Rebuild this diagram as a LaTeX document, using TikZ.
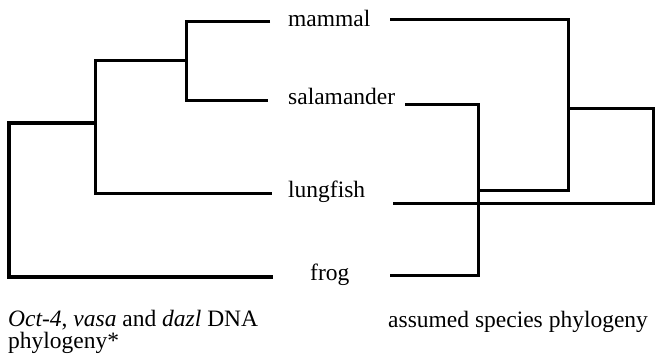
\documentclass[tikz,border=0pt]{standalone}
\usepackage{fontspec}
\setmainfont{Liberation Serif}
\begin{document}
\begin{tikzpicture}[x=1pt,y=-1pt,
  branch/.style={line width=3pt,line join=miter},
  leaf/.style={anchor=base west,inner sep=0pt,font=\fontsize{23.5}{22}\selectfont},
  caption/.style={inner sep=0pt,align=left,font=\fontsize{23.5}{22}\selectfont}]
\useasboundingbox (0,0) rectangle (656,360);
% labels
\node[leaf] (mammal) at (288,26) {mammal};
\node[leaf] (salamander) at (288,104) {salamander};
\node[leaf] (lungfish) at (288,197) {lungfish};
\node[leaf] (frog) at (310,280) {frog};
% left tree leaf ends
\coordinate (lm) at (270,21);
\coordinate (ls) at (268,100);
\coordinate (ll) at (272,193);
\coordinate (lf) at (273,277);
\coordinate (c) at (186,60);
\coordinate (b) at (95,123);
\coordinate (a) at (9,200);
\draw[branch] (lm) -| (c) |- (ls);
\draw[branch] (c) -| (b) |- (ll);
\draw[branch,line width=3.5pt] (b) -| (a) |- (lf);
% right tree leaf ends
\coordinate (rm) at (390,19);
\coordinate (rs) at (405,104);
\coordinate (rl) at (393,203);
\coordinate (rf) at (390,275);
\coordinate (e) at (478,190);
\coordinate (g) at (568,108);
\coordinate (h) at (653,150);
\draw[branch] (rs) -| (e) |- (rf);
\draw[branch] (rm) -| (g) |- (e);
\draw[branch] (g) -| (h) |- (rl);
% captions
\node[caption,anchor=north west] (cap1) at (8,310) {\textit{Oct-4}, \textit{vasa} and \textit{dazl} DNA\\phylogeny*};
\node[caption,anchor=base west] (cap2) at (388,327) {assumed species phylogeny};
\end{tikzpicture}
\end{document}
